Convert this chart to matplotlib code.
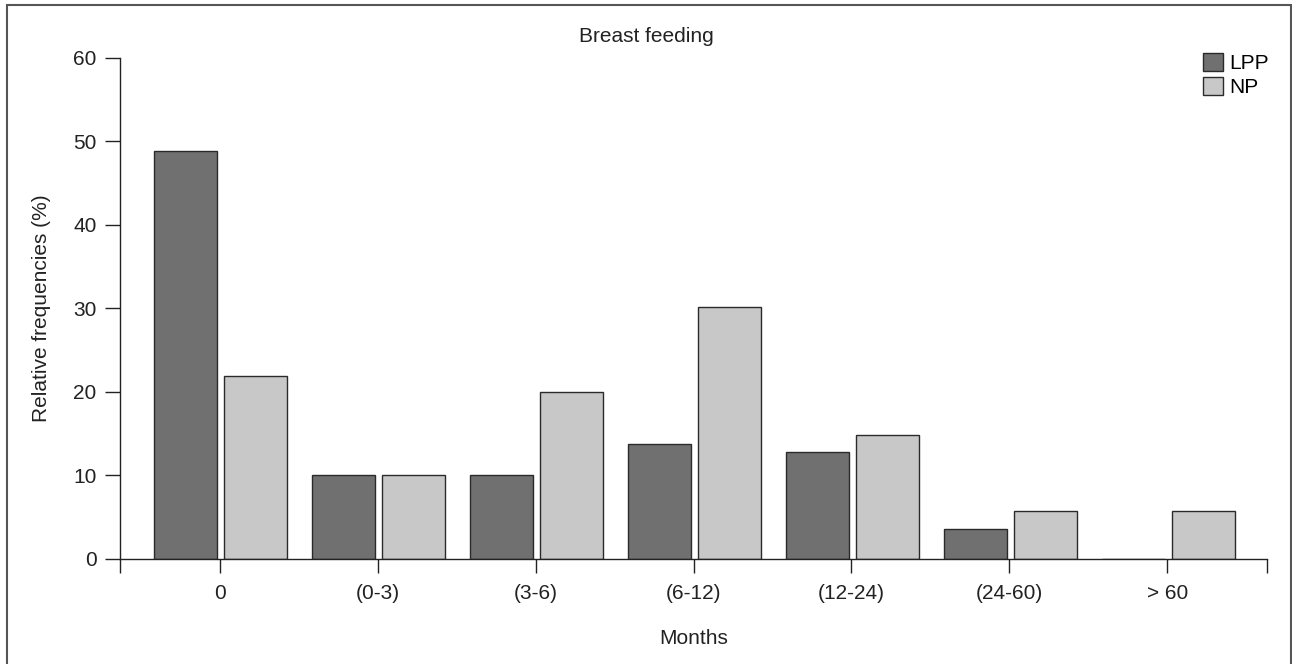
import matplotlib.pyplot as plt
import numpy as np
from matplotlib.patches import Rectangle

plt.rcParams['font.family'] = ['Liberation Sans', 'DejaVu Sans']

categories = ["0", "(0-3)", "(3-6)", "(6-12)", "(12-24)", "(24-60)", "> 60"]
lpp = [48.8, 10, 10, 13.8, 12.8, 3.6, 0]
np_vals = [21.9, 10, 20, 30.2, 14.8, 5.8, 5.8]

W, H = 1292, 664
fig = plt.figure(figsize=(W / 100, H / 100), dpi=100)

# outer frame (open at the bottom, as in the original)
fig.add_artist(Rectangle((6.5 / W, -0.05), (1290.5 - 6.5) / W, 1.05 - 5 / H,
                         transform=fig.transFigure, fill=False,
                         edgecolor="#555555", linewidth=1.5))

ax = fig.add_axes([120 / W, 1 - 559 / H, (1267 - 120) / W, (559 - 57.5) / H])

x = np.arange(len(categories))
width = 0.4
ax.bar(x - 0.213, lpp, width, color="#707070", edgecolor="#2a2a2a",
       linewidth=1.0, label="LPP")
ax.bar(x + 0.227, np_vals, width, color="#c8c8c8", edgecolor="#2a2a2a",
       linewidth=1.0, label="NP")

ax.set_xlim(-0.63, len(categories) - 1 + 0.63)
ax.set_ylim(0, 60)
ax.set_yticks(range(0, 61, 10))
ax.set_xticks(x)
ax.set_xticklabels(categories)
ax.set_xticks([-0.63, len(categories) - 1 + 0.63], minor=True)

for s in ["top", "right"]:
    ax.spines[s].set_visible(False)
for s in ["left", "bottom"]:
    ax.spines[s].set_linewidth(1.0)
    ax.spines[s].set_color("#222222")

ax.tick_params(axis="y", length=11, width=1.0, labelsize=15, pad=6, colors="#222222")
ax.tick_params(axis="x", which="both", length=10, width=1.0, labelsize=15, pad=8,
               colors="#222222")

ax.set_ylabel("Relative frequencies (%)", fontsize=15, labelpad=16, color="#222222")
ax.set_xlabel("Months", fontsize=15, labelpad=19, color="#222222")
fig.text(0.5, 1 - 37 / H, "Breast feeding", ha="center", va="center",
         fontsize=15, color="#222222")

leg = ax.legend(loc="upper left", bbox_to_anchor=(1203 / W, 1 - 53 / H),
                bbox_transform=fig.transFigure, frameon=False, fontsize=15,
                handlelength=0.95, handleheight=0.95, handletextpad=0.3,
                labelspacing=0.2, borderaxespad=0, borderpad=0)

fig.savefig("out.png", dpi=100)
